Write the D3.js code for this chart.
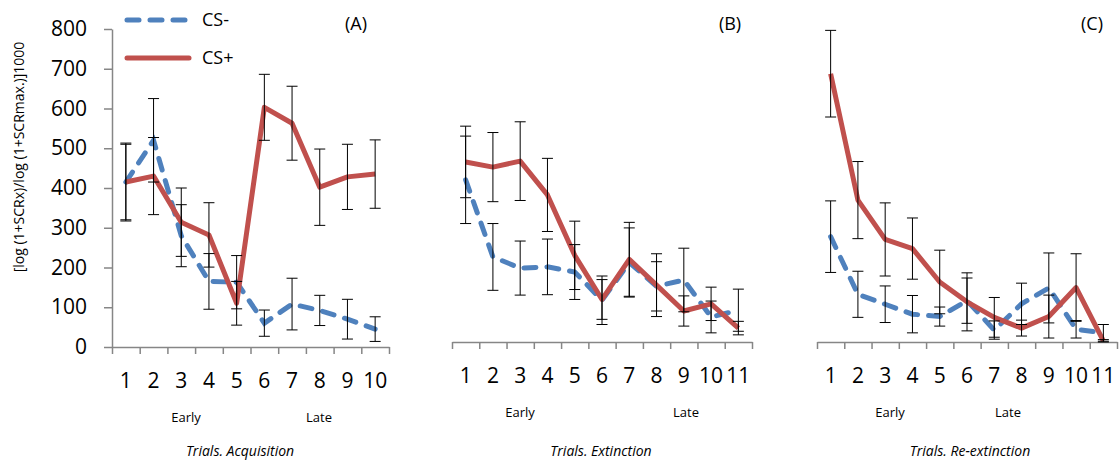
<!DOCTYPE html>
<html>
<head>
<meta charset="utf-8">
<script src="https://cdn.jsdelivr.net/npm/d3@7"></script>
<style>
    body { margin: 0; background: #fff; }
    svg { display: block; font-family: 'Open Sans', sans-serif; }
</style>
</head>
<body>
<svg id="chart" width="1120" height="461"></svg>
<script>
// trial labels
const acqTrials = ['1', '2', '3', '4', '5', '6', '7', '8', '9', '10'];
const extTrials = ['1', '2', '3', '4', '5', '6', '7', '8', '9', '10', '11'];
const reextTrials = ['1', '2', '3', '4', '5', '6', '7', '8', '9', '10', '11'];
const yTicks = [0, 100, 200, 300, 400, 500, 600, 700, 800];
const seriesNames = ['CS-', 'CS+'];

// (A) acquisition
const acqMinus = [415, 520, 280, 165, 163, 60, 108, 92, 70, 45];
const acqMinusErr = [98, 105, 78, 70, 67, 33, 65, 38, 50, 31];
const acqPlus = [415, 430, 314, 282, 110, 603, 563, 402, 428, 435];
const acqPlusErr = [95, 97, 86, 81, 55, 83, 93, 96, 82, 86];

// (B) extinction
const extMinus = [408, 214, 186, 189, 176, 105, 200, 140, 156, 63, 80];
const extMinusErr = [110, 84, 68, 70, 69, 61, 87, 62, 80, 40, 53];
const extPlus = [453, 440, 455, 370, 218, 107, 208, 143, 78, 96, 35];
const extPlusErr = [90, 87, 99, 92, 86, 50, 93, 79, 38, 42, 17];

// (C) re-extinction
const reextMinus = [265, 120, 95, 70, 64, 104, 30, 96, 136, 32, 23];
const reextMinusErr = [90, 58, 46, 47, 24, 57, 23, 52, 88, 22, 21];
const reextPlus = [675, 357, 258, 235, 151, 101, 62, 35, 64, 137, 3];
const reextPlusErr = [109, 97, 92, 77, 80, 73, 50, 20, 54, 85, 3];

const panelLabels = ['(A)', '(B)', '(C)'];
const phaseLabels = ['Early', 'Late'];
const xTitles = ['Trials. Acquisition', 'Trials. Extinction', 'Trials. Re-extinction'];
const yTitle = '[log (1+SCRx)/log (1+SCRmax.)]1000';

const blue = '#4f81bd';
const red = '#c0504d';
const axisGrey = '#868686';

const svg = d3.select('#chart');

const panels = [
    { trials: acqTrials, minus: acqMinus, minusErr: acqMinusErr, plus: acqPlus, plusErr: acqPlusErr,
      left: 112, right: 389, base: 347, yAxis: true, labelX: 356, early: 186, late: 319, titleX: 240 },
    { trials: extTrials, minus: extMinus, minusErr: extMinusErr, plus: extPlus, plusErr: extPlusErr,
      left: 452, right: 752, base: 342, yAxis: false, labelX: 730, early: 520, late: 686, titleX: 601 },
    { trials: reextTrials, minus: reextMinus, minusErr: reextMinusErr, plus: reextPlus, plusErr: reextPlusErr,
      left: 817, right: 1117, base: 342, yAxis: false, labelX: 1092, early: 890, late: 1008, titleX: 970 }
];

function drawPanel(p, idx) {
    const n = p.trials.length;
    const x = d3.scaleBand().domain(p.trials).range([p.left, p.right]);
    const edge = d3.scaleLinear().domain([0, n]).range([p.left, p.right]);
    const y = d3.scaleLinear().domain([0, 800]).range([p.base, p.base - 318]);
    const cx = i => x(p.trials[i]) + x.bandwidth() / 2;

    // x axis with ticks between categories
    svg.append('g')
        .attr('transform', `translate(0,${p.base})`)
        .call(d3.axisBottom(edge).tickValues(d3.range(n + 1)).tickFormat('').tickSize(7).tickSizeOuter(0))
        .call(g => g.selectAll('path, line').attr('stroke', axisGrey).attr('stroke-width', 1.5));

    svg.append('g')
        .attr('transform', `translate(0,${p.base})`)
        .call(d3.axisBottom(x).tickSize(0).tickPadding(26))
        .call(g => g.select('.domain').remove())
        .selectAll('text')
        .style('font-family', "'Open Sans', sans-serif")
        .style('font-size', '21px')
        .style('fill', '#000');

    if (p.yAxis) {
        svg.append('g')
            .attr('transform', `translate(${p.left},0)`)
            .call(d3.axisLeft(y).tickValues(yTicks).tickSize(8).tickSizeOuter(0).tickPadding(17))
            .call(g => g.selectAll('path, line').attr('stroke', axisGrey).attr('stroke-width', 1.5))
            .selectAll('text')
            .style('font-family', "'Open Sans', sans-serif")
            .style('font-size', '21px')
            .style('fill', '#000');
    }

    const line = d3.line()
        .x((d, i) => cx(i))
        .y(d => y(d));

    svg.append('path')
        .datum(p.minus)
        .attr('fill', 'none')
        .attr('stroke', blue)
        .attr('stroke-width', 5)
        .attr('stroke-dasharray', '12,11')
        .attr('stroke-linecap', 'round')
        .attr('d', line);

    svg.append('path')
        .datum(p.plus)
        .attr('fill', 'none')
        .attr('stroke', red)
        .attr('stroke-width', 5)
        .attr('stroke-linejoin', 'round')
        .attr('d', line);

    // error bars
    [[p.minus, p.minusErr], [p.plus, p.plusErr]].forEach(([vals, errs]) => {
        const g = svg.append('g').attr('stroke', '#000').attr('stroke-width', 1);
        vals.forEach((v, i) => {
            const x0 = cx(i);
            const yTop = y(v + errs[i]);
            const yBot = y(v - errs[i]);
            g.append('line').attr('x1', x0).attr('x2', x0).attr('y1', yTop).attr('y2', yBot);
            g.append('line').attr('x1', x0 - 5.5).attr('x2', x0 + 5.5).attr('y1', yTop).attr('y2', yTop);
            g.append('line').attr('x1', x0 - 5.5).attr('x2', x0 + 5.5).attr('y1', yBot).attr('y2', yBot);
        });
    });

    svg.append('text')
        .attr('x', p.labelX)
        .attr('y', 30)
        .attr('text-anchor', 'middle')
        .style('font-size', '18px')
        .text(panelLabels[idx]);

    [p.early, p.late].forEach((px, i) => {
        svg.append('text')
            .attr('x', px)
            .attr('y', p.base + 75)
            .attr('text-anchor', 'middle')
            .style('font-size', '13px')
            .text(phaseLabels[i]);
    });

    svg.append('text')
        .attr('x', p.titleX)
        .attr('y', 456)
        .attr('text-anchor', 'middle')
        .style('font-size', '14px')
        .style('font-style', 'italic')
        .text(xTitles[idx]);
}

panels.forEach(drawPanel);

// y axis title
svg.append('text')
    .attr('transform', 'translate(24,157) rotate(-90)')
    .attr('text-anchor', 'middle')
    .style('font-size', '14px')
    .text(yTitle);

// legend
const legend = svg.append('g');
[[blue, '12,11', 20], [red, null, 58]].forEach(([col, dash, ly], i) => {
    const ln = legend.append('line')
        .attr('x1', 127).attr('x2', 189)
        .attr('y1', ly).attr('y2', ly)
        .attr('stroke', col)
        .attr('stroke-width', 5)
        .attr('stroke-linecap', 'round');
    if (dash) ln.attr('stroke-dasharray', dash);
    legend.append('text')
        .attr('x', 202)
        .attr('y', ly + 6)
        .style('font-size', '18px')
        .text(seriesNames[i]);
});
</script>
</body>
</html>
